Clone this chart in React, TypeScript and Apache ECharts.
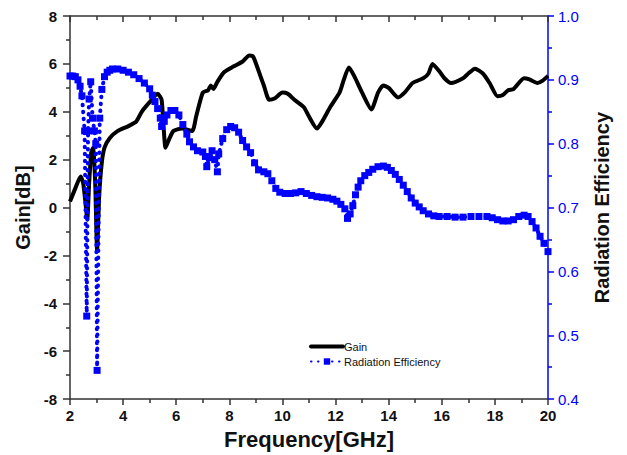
import React, { useEffect, useRef } from "react";
import * as echarts from "echarts";

const gainFreq = [2.0, 2.2, 2.4, 2.5, 2.6, 2.65, 2.72, 2.8, 2.87, 2.95, 3.02, 3.1, 3.2, 3.3, 3.5, 3.8, 4.2, 4.5, 4.7, 5.0, 5.3, 5.45, 5.6, 5.75, 5.9, 6.2, 6.6, 6.75, 7.0, 7.2, 7.3, 7.4, 7.55, 7.8, 8.17, 8.5, 8.75, 8.9, 9.2, 9.3, 9.5, 9.7, 10.0, 10.2, 10.45, 10.8, 11.0, 11.3, 11.5, 11.8, 12.15, 12.3, 12.5, 12.7, 13.0, 13.35, 13.6, 13.8, 14.0, 14.35, 14.6, 14.9, 15.3, 15.5, 15.65, 15.9, 16.1, 16.35, 16.8, 17.0, 17.25, 17.55, 17.8, 18.1, 18.3, 18.5, 18.7, 19.1, 19.3, 19.6, 19.8, 20.0];
const gainDb = [0.25, 0.8, 1.3, 1.0, 0.0, -0.5, 1.0, 2.3, 2.5, 1.0, -1.8, 0.5, 1.9, 2.5, 2.9, 3.2, 3.4, 3.6, 4.0, 4.4, 4.75, 4.5, 2.5, 2.9, 3.2, 3.3, 3.2, 3.8, 4.8, 4.9, 5.1, 4.95, 5.25, 5.65, 5.9, 6.1, 6.35, 6.3, 5.4, 5.1, 4.5, 4.55, 4.8, 4.75, 4.5, 4.2, 3.8, 3.3, 3.6, 4.2, 4.8, 5.3, 5.85, 5.5, 4.8, 4.1, 4.8, 5.1, 5.0, 4.6, 4.8, 5.2, 5.4, 5.6, 6.0, 5.7, 5.4, 5.2, 5.4, 5.6, 5.8, 5.6, 5.2, 4.65, 4.7, 4.9, 4.95, 5.4, 5.35, 5.2, 5.3, 5.5];

const effFreq = [2.0, 2.1, 2.2, 2.3, 2.38, 2.45, 2.55, 2.63, 2.68, 2.72, 2.78, 2.85, 2.92, 2.97, 3.02, 3.12, 3.2, 3.3, 3.4, 3.5, 3.6, 3.8, 4.0, 4.2, 4.4, 4.6, 4.8, 5.0, 5.1, 5.2, 5.3, 5.4, 5.45, 5.55, 5.65, 5.8, 5.95, 6.1, 6.25, 6.4, 6.5, 6.65, 6.8, 7.0, 7.1, 7.15, 7.25, 7.35, 7.45, 7.55, 7.6, 7.75, 7.9, 8.05, 8.2, 8.35, 8.5, 8.65, 8.8, 8.95, 9.1, 9.3, 9.45, 9.6, 9.75, 9.9, 10.1, 10.3, 10.5, 10.7, 10.9, 11.1, 11.3, 11.5, 11.7, 11.9, 12.05, 12.2, 12.35, 12.45, 12.55, 12.65, 12.75, 12.85, 12.95, 13.1, 13.25, 13.4, 13.6, 13.8, 13.95, 14.1, 14.25, 14.4, 14.55, 14.7, 14.85, 15.0, 15.15, 15.3, 15.5, 15.7, 15.9, 16.2, 16.5, 16.8, 17.1, 17.4, 17.7, 17.9, 18.1, 18.3, 18.5, 18.7, 18.9, 19.1, 19.25, 19.4, 19.55, 19.7, 19.85, 20.0];
const effValue = [0.906, 0.906, 0.905, 0.9, 0.89, 0.875, 0.82, 0.53, 0.82, 0.87, 0.897, 0.84, 0.82, 0.8, 0.445, 0.84, 0.885, 0.905, 0.912, 0.915, 0.917, 0.917, 0.915, 0.912, 0.908, 0.902, 0.895, 0.886, 0.876, 0.866, 0.855, 0.84, 0.827, 0.835, 0.845, 0.852, 0.852, 0.845, 0.83, 0.815, 0.803, 0.795, 0.789, 0.787, 0.78, 0.764, 0.778, 0.789, 0.775, 0.756, 0.784, 0.808, 0.822, 0.827, 0.825, 0.818, 0.805, 0.795, 0.786, 0.77, 0.759, 0.756, 0.753, 0.742, 0.73, 0.724, 0.722, 0.722, 0.723, 0.725, 0.722, 0.719, 0.717, 0.716, 0.715, 0.713, 0.71, 0.705, 0.698, 0.683, 0.69, 0.703, 0.72, 0.732, 0.742, 0.75, 0.755, 0.76, 0.764, 0.765, 0.763, 0.758, 0.752, 0.744, 0.735, 0.725, 0.715, 0.707, 0.701, 0.695, 0.69, 0.687, 0.686, 0.686, 0.685, 0.685, 0.686, 0.686, 0.686, 0.684, 0.681, 0.679, 0.679, 0.681, 0.686, 0.688, 0.686, 0.678, 0.668, 0.655, 0.644, 0.631];

const BLUE = "#0000ff";
const TICK_FONT = "'Liberation Sans Narrow', 'Liberation Sans', Arial, sans-serif";
const TITLE_FONT = "'Liberation Sans', Arial, sans-serif";

export default function App() {
  const ref = useRef<HTMLDivElement>(null);
  useEffect(() => {
    if (!ref.current) return;
    const chart = echarts.init(ref.current, undefined, { renderer: "svg" });
    const axisLineBlack = { show: true, onZero: false, lineStyle: { color: "#333", width: 1.5 } };
    chart.setOption({
      animation: false,
      backgroundColor: "#ffffff",
      grid: { left: 70, right: 79, top: 16, bottom: 54, containLabel: false },
      legend: {
        left: 304,
        top: 336,
        orient: "vertical",
        itemWidth: 32,
        itemHeight: 8,
        itemGap: 4,
        textStyle: { fontFamily: TITLE_FONT, fontSize: 11, color: "#111", padding: [0, 0, 0, -4] },
        data: [
          { name: "Gain", itemStyle: { opacity: 0 }, lineStyle: { width: 4, color: "#000", cap: "round" } },
          { name: "Radiation Efficiency" },
        ],
      },
      xAxis: [
        {
          type: "value",
          min: 2,
          max: 20,
          interval: 2,
          position: "bottom",
          name: "Frequency[GHz]",
          nameLocation: "middle",
          nameGap: 27,
          nameTextStyle: { fontFamily: TITLE_FONT, fontSize: 22, fontWeight: "bold", color: "#111" },
          axisLine: axisLineBlack,
          axisTick: { show: true, inside: false, length: 6, lineStyle: { color: "#333", width: 1.5 } },
          minorTick: { show: true, splitNumber: 2, length: 4, lineStyle: { color: "#333", width: 1.5 } },
          axisLabel: { margin: 9, fontFamily: TICK_FONT, fontSize: 15, fontWeight: "bold", color: "#111" },
          splitLine: { show: false },
        },
        {
          type: "value",
          min: 2,
          max: 20,
          interval: 2,
          position: "top",
          axisLine: axisLineBlack,
          axisTick: { show: true, inside: true, length: 6, lineStyle: { color: "#333", width: 1.5 } },
          minorTick: { show: true, splitNumber: 2, length: 4, lineStyle: { color: "#333", width: 1.5 } },
          axisLabel: { show: false },
          splitLine: { show: false },
        },
      ],
      yAxis: [
        {
          type: "value",
          min: -8,
          max: 8,
          interval: 2,
          position: "left",
          name: "Gain[dB]",
          nameLocation: "middle",
          nameGap: 32,
          nameRotate: 90,
          nameTextStyle: { fontFamily: TITLE_FONT, fontSize: 20, fontWeight: "bold", color: "#111" },
          axisLine: axisLineBlack,
          axisTick: { show: true, inside: false, length: 7, lineStyle: { color: "#333", width: 1.5 } },
          minorTick: { show: true, splitNumber: 2, length: 4, lineStyle: { color: "#333", width: 1.5 } },
          axisLabel: { margin: 13, fontFamily: TICK_FONT, fontSize: 15, fontWeight: "bold", color: "#111" },
          splitLine: { show: false },
        },
        {
          type: "value",
          min: 0.4,
          max: 1.0,
          interval: 0.1,
          position: "right",
          name: "Radiation Efficiency",
          nameLocation: "middle",
          nameGap: 44,
          nameRotate: 90,
          nameTextStyle: { fontFamily: TITLE_FONT, fontSize: 20, fontWeight: "bold", color: "#111" },
          axisLine: { show: true, onZero: false, lineStyle: { color: BLUE, width: 1.5 } },
          axisTick: { show: true, inside: false, length: 6, lineStyle: { color: BLUE, width: 1.5 } },
          minorTick: { show: true, splitNumber: 2, length: 4, lineStyle: { color: BLUE, width: 1.5 } },
          axisLabel: {
            margin: 10,
            fontFamily: TITLE_FONT,
            fontSize: 15,
            color: BLUE,
            formatter: (v: number) => v.toFixed(1),
          },
          splitLine: { show: false },
        },
      ],
      series: [
        {
          name: "Gain",
          type: "line",
          xAxisIndex: 0,
          yAxisIndex: 0,
          data: gainFreq.map((f, i) => [f, gainDb[i]]),
          showSymbol: false,
          symbol: "none",
          smooth: 0.2,
          lineStyle: { color: "#000", width: 4 },
          itemStyle: { color: "#000" },
          z: 2,
        },
        {
          name: "Radiation Efficiency",
          type: "line",
          xAxisIndex: 0,
          yAxisIndex: 1,
          data: effFreq.map((f, i) => [f, effValue[i]]),
          symbol: "rect",
          symbolSize: 7,
          showAllSymbol: true,
          lineStyle: { color: BLUE, width: 4, type: [0.5, 6.5], cap: "round" },
          itemStyle: { color: BLUE },
          z: 3,
        },
      ],
    });
    return () => chart.dispose();
  }, []);
  return <div ref={ref} style={{ width: 627, height: 455, position: "absolute", left: 0, top: 0 }} />;
}
